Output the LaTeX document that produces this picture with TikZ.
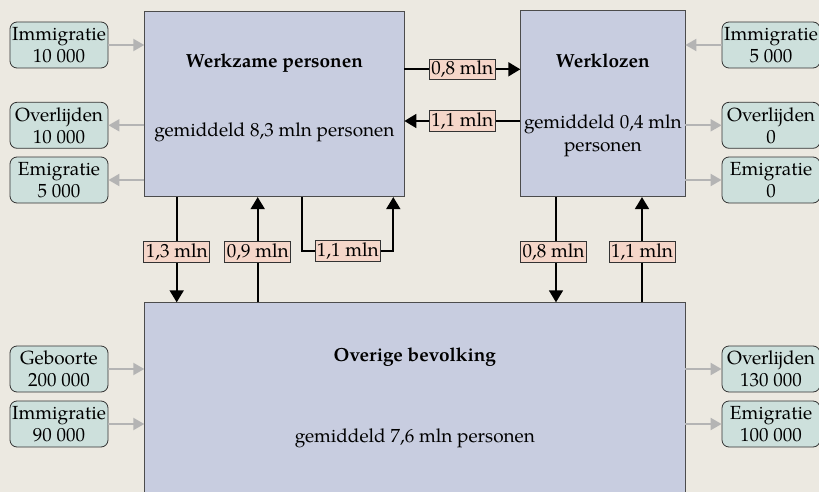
\documentclass[tikz,border=0pt]{standalone}
\usepackage{fontspec}
\setmainfont{TeX Gyre Pagella}
\usetikzlibrary{arrows.meta}

\definecolor{bgc}{HTML}{ECE9E1}
\definecolor{lav}{HTML}{C8CDE0}
\definecolor{tealbox}{HTML}{CDE0DC}
\definecolor{salm}{HTML}{F5D6C9}
\definecolor{grayarr}{HTML}{B4B4B4}

\tikzset{
  stock/.style={draw=black!70, fill=lav, line width=0.8pt, inner sep=0pt},
  ext/.style={draw=black!80, fill=tealbox, rounded corners=7pt, line width=0.8pt,
    minimum width=98pt, minimum height=46pt, align=center, inner sep=0pt},
  rate/.style={draw=black!80, fill=salm, line width=0.6pt, inner sep=2pt,
    minimum height=20pt},
  flow/.style={line width=1.8pt, line join=miter, -{Triangle[length=12pt,width=14pt]}},
  side/.style={draw=grayarr, line width=2pt, -{Triangle[length=11pt,width=12pt]}},
  ttl/.style={anchor=base, font=\fontsize{19}{22}\selectfont\bfseries},
  txt/.style={anchor=base}
}

\begin{document}
\begin{tikzpicture}[x=1pt, y=-1pt, font=\fontsize{19}{22}\selectfont]
  \useasboundingbox (0,0) rectangle (819,492);
  \fill[bgc] (0,0) rectangle (819,492);
  \clip (0,0) rectangle (819,492);

  % stocks
  \node[stock, minimum width=259.3pt, minimum height=185pt] (wz) at (274.35,104.2) {};
  \node[stock, minimum width=164.3pt, minimum height=186.7pt] (wl) at (602.85,103.35) {};
  \node[stock, minimum width=540.3pt, minimum height=228pt] (ov) at (414.85,416.7) {};

  \node[ttl] (wzt) at (274.35,68) {Werkzame personen};
  \node[txt] (wzg) at (274.35,136) {gemiddeld 8,3 mln personen};
  \node[ttl] (wlt) at (602.85,68) {Werklozen};
  \node[txt] (wlg) at (602.85,129) {gemiddeld 0,4 mln};
  \node[txt] (wlp) at (602.85,151) {personen};
  \node[ttl] (ovt) at (414.85,361) {Overige bevolking};
  \node[txt] (ovg) at (414.85,442) {gemiddeld 7,6 mln personen};

  % external boxes, left
  \node[ext] (li1) at (59,45) {Immigratie\\10 000};
  \node[ext] (lo1) at (59,125.3) {Overlijden\\10 000};
  \node[ext] (le1) at (59,180) {Emigratie\\5 000};
  \node[ext] (lg3) at (59,369) {Geboorte\\200 000};
  \node[ext] (li3) at (59,424) {Immigratie\\90 000};

  % external boxes, right
  \node[ext] (ri2) at (771,45) {Immigratie\\5 000};
  \node[ext] (ro2) at (771,125.3) {Overlijden\\0};
  \node[ext] (re2) at (771,180) {Emigratie\\0};
  \node[ext] (ro3) at (771,369) {Overlijden\\130 000};
  \node[ext] (re3) at (771,424) {Emigratie\\100 000};

  % grey in/out flows
  \draw[side] (li1.east) -- (wz.west |- li1.east);
  \draw[side] (wz.west |- lo1.east) -- (lo1.east);
  \draw[side] (wz.west |- le1.east) -- (le1.east);
  \draw[side] (lg3.east) -- (ov.west |- lg3.east);
  \draw[side] (li3.east) -- (ov.west |- li3.east);
  \draw[side] (ri2.west) -- (wl.east |- ri2.west);
  \draw[side] (wl.east |- ro2.west) -- (ro2.west);
  \draw[side] (wl.east |- re2.west) -- (re2.west);
  \draw[side] (ov.east |- ro3.west) -- (ro3.west);
  \draw[side] (ov.east |- re3.west) -- (re3.west);

  % transitions between stocks
  \coordinate (h1) at (0,69.3);
  \coordinate (h2) at (0,121);
  \draw[flow] (wz.east |- h1) -- node[rate]{0,8 mln} (wl.west |- h1);
  \draw[flow] (wl.west |- h2) -- node[rate]{1,1 mln} (wz.east |- h2);

  \coordinate (v1) at (176.7,0);
  \coordinate (v2) at (257.7,0);
  \coordinate (v3) at (302.3,0);
  \coordinate (v4) at (393.3,0);
  \coordinate (v5) at (556,0);
  \coordinate (v6) at (642,0);
  \coordinate (lp1) at (302.3,251);
  \coordinate (lp2) at (393.3,251);

  \draw[flow] (wz.south -| v1) -- node[rate, pos=0.52]{1,3 mln} (ov.north -| v1);
  \draw[flow] (ov.north -| v2) -- node[rate, pos=0.48]{0,9 mln} (wz.south -| v2);
  \draw[flow] (wz.south -| v3) -- (lp1) -- node[rate]{1,1 mln} (lp2) -- (wz.south -| v4);
  \draw[flow] (wl.south -| v5) -- node[rate, pos=0.52, xshift=-2.5pt]{0,8 mln} (ov.north -| v5);
  \draw[flow] (ov.north -| v6) -- node[rate, pos=0.48]{1,1 mln} (wl.south -| v6);
\end{tikzpicture}
\end{document}
